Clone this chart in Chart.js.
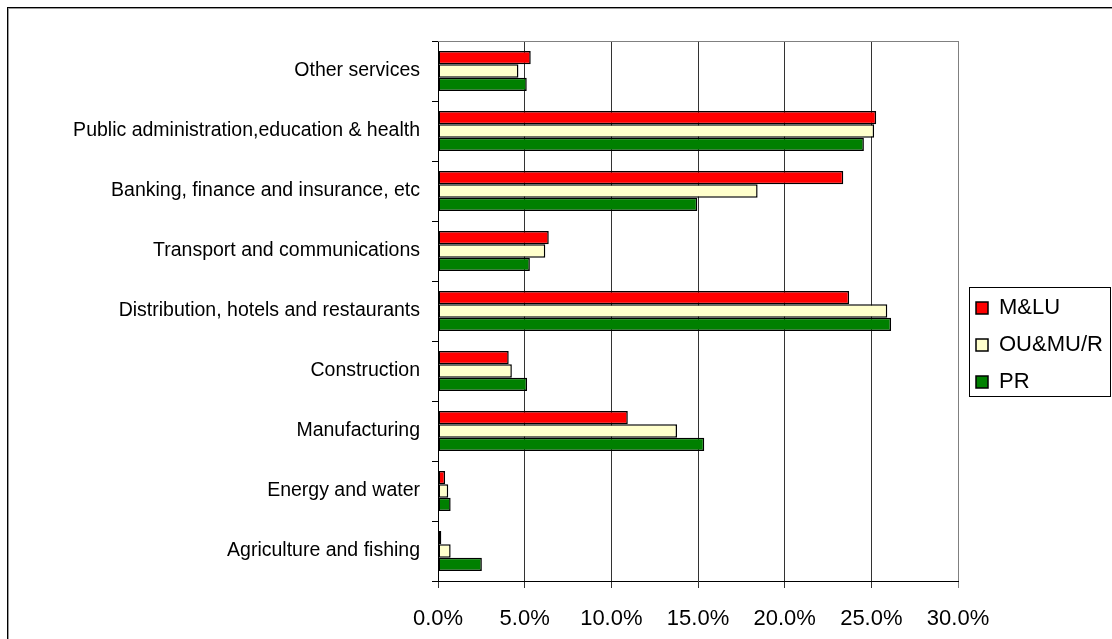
<!DOCTYPE html>
<html>
<head>
<meta charset="utf-8">
<script src="https://cdn.jsdelivr.net/npm/chart.js@4.4.1/dist/chart.umd.min.js"></script>
<style>
  html, body { margin: 0; padding: 0; background: #ffffff; }
  #wrap { position: relative; width: 1112px; height: 639px; overflow: hidden; }
  canvas { display: block; }
</style>
</head>
<body>
<div id="wrap"><canvas id="c" width="1112" height="639"></canvas></div>
<script>
// ---- data (values in percent) ----
const categories = [
  'Other services',
  'Public administration,education & health',
  'Banking, finance and insurance, etc',
  'Transport and communications',
  'Distribution, hotels and restaurants',
  'Construction',
  'Manufacturing',
  'Energy and water',
  'Agriculture and fishing'
];
const seriesNames = ['M&LU', 'OU&MU/R', 'PR'];
const mluValues  = [5.35, 25.28, 23.38, 6.39, 23.72, 4.08, 10.95, 0.41, 0.19];
const oumuValues = [4.64, 25.16, 18.44, 6.19, 25.92, 4.26, 13.79, 0.59, 0.73];
const prValues   = [5.12, 24.57, 14.96, 5.30, 26.14, 5.14, 15.36, 0.73, 2.53];
const xTickValues = [0, 5, 10, 15, 20, 25, 30];

const FONT = "'Liberation Sans', Arial, Helvetica, sans-serif";

const framePlugin = {
  id: 'frames',
  afterLayout(chart) {
    const lg = chart.legend;
    if (lg) {
      lg.left = 961; lg.top = 282; lg.width = 151; lg.height = 200;
      lg.right = lg.left + lg.width; lg.bottom = lg.top + lg.height;
    }
  },
  afterDraw(chart) {
    const ctx = chart.ctx;
    const a = chart.chartArea;
    ctx.save();
    // plot area top border (gray)
    ctx.strokeStyle = '#808080';
    ctx.lineWidth = 1;
    ctx.beginPath();
    ctx.moveTo(a.left, Math.round(a.top) + 0.5);
    ctx.lineTo(a.right + 1, Math.round(a.top) + 0.5);
    ctx.stroke();
    // legend frame
    const lg = chart.legend;
    if (lg) {
      ctx.strokeStyle = '#000000';
      ctx.lineWidth = 1;
      ctx.strokeRect(lg.left + 8.5, lg.top + 5.5, 141, 109);
    }
    // outer chart border
    ctx.strokeStyle = '#000000';
    ctx.lineWidth = 1;
    ctx.strokeRect(7.5, 7.5, 1300, 800);
    ctx.strokeStyle = '#9a9a9a';
    ctx.strokeRect(8.5, 8.5, 1300, 800);
    ctx.restore();
  }
};

const mkSet = (label, data, color) => ({
  label, data,
  backgroundColor: color,
  borderColor: '#000000',
  borderWidth: 1.5,
  borderSkipped: false,
  categoryPercentage: 0.667,
  barPercentage: 1.0
});

new Chart(document.getElementById('c'), {
  type: 'bar',
  data: {
    labels: categories,
    datasets: [
      mkSet(seriesNames[0], mluValues, '#FF0000'),
      mkSet(seriesNames[1], oumuValues, '#FFFFCC'),
      mkSet(seriesNames[2], prValues, '#008000')
    ]
  },
  options: {
    indexAxis: 'y',
    responsive: false,
    animation: false,
    layout: { padding: { left: 0, top: 41, right: 154, bottom: 0 } },
    plugins: {
      legend: {
        position: 'chartArea',
        align: 'start',
        labels: {
          font: { family: FONT, size: 22 },
          color: '#000000',
          boxWidth: 12,
          boxHeight: 12,
          padding: 15
        }
      },
      tooltip: { enabled: false }
    },
    scales: {
      x: {
        type: 'linear',
        min: 0,
        max: 30,
        afterBuildTicks(scale) { scale.ticks = xTickValues.map(v => ({ value: v })); },
        afterFit(scale) { scale.height = 58; },
        ticks: {
          font: { family: FONT, size: 22 },
          color: '#000000',
          padding: 18,
          maxRotation: 0,
          callback: v => Number(v).toFixed(1) + '%'
        },
        grid: {
          color: ctx => (ctx.tick && ctx.tick.value === 30) ? '#808080' : '#333333',
          lineWidth: 1,
          tickLength: 7,
          drawTicks: true
        },
        border: { color: '#000000', width: 1 }
      },
      y: {
        afterFit(scale) { scale.width = 438; },
        ticks: {
          font: { family: FONT, size: 19.5 },
          color: '#000000',
          padding: 12
        },
        grid: {
          drawOnChartArea: false,
          drawTicks: true,
          tickLength: 6,
          color: '#000000'
        },
        border: { color: '#000000', width: 1 }
      }
    }
  },
  plugins: [framePlugin]
});
</script>
</body>
</html>
